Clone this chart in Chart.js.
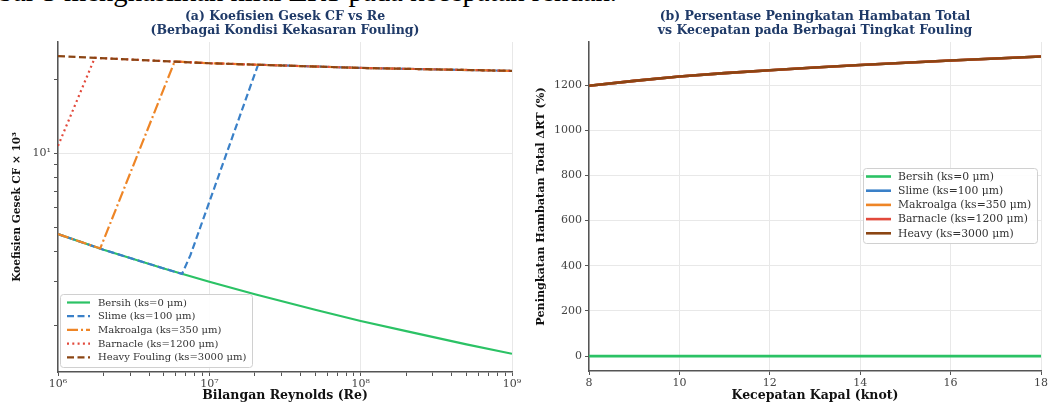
<!DOCTYPE html>
<html>
<head>
<meta charset="utf-8">
<script src="https://cdn.jsdelivr.net/npm/chart.js@4.4.1/dist/chart.umd.min.js"></script>
<style>
  html, body { margin: 0; padding: 0; background: #fff; overflow: hidden; width: 1050px; height: 405px; }
  .panel { position: absolute; top: 0; width: 525px; height: 405px; }
  #topText { position: absolute; top: -23px; right: 433px; white-space: nowrap;
    font-family: "Liberation Serif", serif; font-size: 28.7px; line-height: 29px; color: #000; }
</style>
</head>
<body>
<div id="topText">Gambar 5 menghasilkan nilai ΔRT pada kecepatan rendah.</div>
<div class="panel" style="left:0"><canvas id="cfChart" width="525" height="405"></canvas></div>
<div class="panel" style="left:525px"><canvas id="drtChart" width="525" height="405"></canvas></div>
<script>
// --- Data (a): Koefisien gesek CF x 10^3 vs Re ---
const reBersih = [1e6, 2e6, 5e6, 1e7, 2e7, 5e7, 1e8, 2e8, 5e8, 1e9];
const cfBersih = [4.69, 4.05, 3.40, 3.00, 2.67, 2.31, 2.08, 1.89, 1.67, 1.53];

const reSlime = [1e6, 2e6, 5e6, 6.6e6, 7.5e6, 2.1e7, 1e8, 1e9];
const cfSlime = [4.69, 4.05, 3.40, 3.23, 3.85, 22.9, 22.2, 21.6];

const reMakro = [1e6, 1.9e6, 2.05e6, 5.9e6, 1e7, 1e8, 1e9];
const cfMakro = [4.69, 4.10, 4.6, 23.6, 23.2, 22.2, 21.6];

const reBarnacle = [1e6, 1.75e6, 1e7, 1e8, 1e9];
const cfBarnacle = [10.7, 24.4, 23.2, 22.2, 21.6];

const reHeavy = [1e6, 1e7, 1e8, 1e9];
const cfHeavy = [24.8, 23.2, 22.2, 21.6];

// --- Data (b): Peningkatan hambatan total vs kecepatan ---
const speedKnot = [8, 9, 10, 11, 12, 13, 14, 15, 16, 17, 18];
const drtBersih = [0, 0, 0, 0, 0, 0, 0, 0, 0, 0, 0];
const drtSlime = [1197, 1219, 1238, 1253, 1266, 1278, 1289, 1299, 1309, 1318, 1327];
const drtMakro = [1197, 1219, 1238, 1253, 1266, 1278, 1289, 1299, 1309, 1318, 1327];
const drtBarnacle = [1197, 1219, 1238, 1253, 1266, 1278, 1289, 1299, 1309, 1318, 1327];
const drtHeavy = [1197, 1219, 1238, 1253, 1266, 1278, 1289, 1299, 1309, 1318, 1327];

const speedTicks = [8, 10, 12, 14, 16, 18];
const drtTicks = [0, 200, 400, 600, 800, 1000, 1200];

const labelsA = ['Bersih (ks=0 μm)', 'Slime (ks=100 μm)', 'Makroalga (ks=350 μm)', 'Barnacle (ks=1200 μm)', 'Heavy Fouling (ks=3000 μm)'];
const labelsB = ['Bersih (ks=0 μm)', 'Slime (ks=100 μm)', 'Makroalga (ks=350 μm)', 'Barnacle (ks=1200 μm)', 'Heavy (ks=3000 μm)'];

const C_GREEN = '#2bc265', C_BLUE = '#3a80c8', C_ORANGE = '#ee8526', C_RED = '#e2493b', C_BROWN = '#8b4513';
const FONT = 'DejaVu Serif';
const TITLE_COLOR = '#1f3a68';

const SUP = { '0': '⁰', '1': '¹', '2': '²', '3': '³', '4': '⁴', '5': '⁵', '6': '⁶', '7': '⁷', '8': '⁸', '9': '⁹' };
function isPow10(v) {
    const e = Math.log10(v);
    return Math.abs(e - Math.round(e)) < 1e-6;
}
function pow10Label(v) {
    return '10' + String(Math.round(Math.log10(v))).split('').map(c => SUP[c]).join('');
}
function niceLogTicks(axis) {
    axis.ticks = axis.ticks.filter(t => {
        const m = t.value / Math.pow(10, Math.floor(Math.log10(t.value) + 1e-9));
        return Math.abs(m - Math.round(m)) < 1e-6;
    });
}
function pairs(xs, ys) {
    return xs.map((x, i) => ({ x: x, y: ys[i] }));
}

// legenda di dalam area plot
const boxLegend = {
    id: 'boxLegend',
    afterDraw(chart, args, o) {
        const { ctx, chartArea } = chart;
        const x0 = o.fromRight != null ? chartArea.right - o.fromRight - o.w : chartArea.left + o.fromLeft;
        const y0 = o.fromBottom != null ? chartArea.bottom - o.fromBottom - o.h : chartArea.top + o.fromTop;
        ctx.save();
        ctx.fillStyle = 'rgba(255,255,255,0.9)';
        ctx.strokeStyle = '#d0d0d0';
        ctx.lineWidth = 1;
        ctx.beginPath();
        ctx.roundRect(x0 + 0.5, y0 + 0.5, o.w, o.h, 3);
        ctx.fill();
        ctx.stroke();
        ctx.font = o.fontSize + 'px "' + FONT + '"';
        ctx.textBaseline = 'middle';
        chart.data.datasets.forEach((ds, i) => {
            const y = y0 + o.firstRow + i * o.rowGap;
            ctx.strokeStyle = ds.borderColor;
            ctx.lineWidth = ds.borderWidth;
            ctx.setLineDash(o.useDash ? (ds.borderDash || []) : []);
            ctx.beginPath();
            ctx.moveTo(x0 + o.sampleX, y);
            ctx.lineTo(x0 + o.sampleX + o.sampleW, y);
            ctx.stroke();
            ctx.setLineDash([]);
            ctx.fillStyle = '#333';
            ctx.fillText(ds.label, x0 + o.textX, y + 0.5);
        });
        ctx.restore();
    }
};

function lineSet(label, data, color, dash, width, order) {
    return {
        label: label, data: data, borderColor: color, backgroundColor: color,
        borderDash: dash, borderWidth: width, pointRadius: 0, tension: 0, order: order, fill: false
    };
}

const axisBorder = { display: true, color: '#555', width: 1.5 };
const tickFont = { family: FONT, size: 11 };
const axisTitleFont = { family: FONT, size: 12.5, weight: 'bold' };

// --- CHART (a) ---
new Chart(document.getElementById('cfChart'), {
    type: 'line',
    data: {
        datasets: [
            lineSet(labelsA[0], pairs(reBersih, cfBersih), C_GREEN, [], 2.2, 5),
            lineSet(labelsA[1], pairs(reSlime, cfSlime), C_BLUE, [7, 3.5], 2.2, 4),
            lineSet(labelsA[2], pairs(reMakro, cfMakro), C_ORANGE, [11, 3, 2, 3], 2.2, 3),
            lineSet(labelsA[3], pairs(reBarnacle, cfBarnacle), C_RED, [2, 3.3], 2.2, 2),
            lineSet(labelsA[4], pairs(reHeavy, cfHeavy), C_BROWN, [7, 3.5], 2.2, 1)
        ]
    },
    options: {
        responsive: false,
        animation: false,
        layout: { padding: { left: 11, right: 13, top: 0, bottom: 2 } },
        scales: {
            x: {
                type: 'logarithmic', min: 1e6, max: 1e9,
                border: axisBorder,
                grid: {
                    color: c => (c.tick && isPow10(c.tick.value)) ? '#e8e8e8' : 'rgba(0,0,0,0)',
                    tickColor: '#555', tickLength: 4
                },
                afterBuildTicks: niceLogTicks,
                afterFit: s => { s.height = 31; },
                ticks: {
                    autoSkip: false, maxRotation: 0, padding: 2, color: '#444', font: tickFont,
                    callback: v => isPow10(v) ? pow10Label(v) : ''
                },
                title: { display: true, text: 'Bilangan Reynolds (Re)', color: '#111', font: axisTitleFont, padding: 0 }
            },
            y: {
                type: 'logarithmic', min: 1.29, max: 28.3,
                border: axisBorder,
                grid: {
                    color: c => (c.tick && Math.abs(c.tick.value - 10) < 1e-6) ? '#e8e8e8' : 'rgba(0,0,0,0)',
                    tickColor: '#555', tickLength: 4
                },
                afterBuildTicks: niceLogTicks,
                afterFit: s => { s.width = 47; },
                ticks: {
                    autoSkip: false, padding: 3, color: '#444', font: tickFont,
                    callback: v => Math.abs(v - 10) < 1e-6 ? '10¹' : ''
                },
                title: { display: true, text: 'Koefisien Gesek CF × 10³', color: '#111', font: { family: FONT, size: 10.6, weight: 'bold' }, padding: 0 }
            }
        },
        plugins: {
            legend: { display: false },
            tooltip: { enabled: false },
            title: {
                display: true, fullSize: false,
                text: ['(a) Koefisien Gesek CF vs Re', '(Berbagai Kondisi Kekasaran Fouling)'],
                color: TITLE_COLOR, font: { family: FONT, size: 12.5, weight: 'bold', lineHeight: 1.12 },
                padding: { top: 10, bottom: 4 }
            },
            boxLegend: { fromLeft: 2, fromBottom: 5, w: 192, h: 73, firstRow: 8.5, rowGap: 13.7,
                sampleX: 7, sampleW: 23, textX: 38, fontSize: 10, useDash: true }
        }
    },
    plugins: [boxLegend]
});

// --- CHART (b) ---
new Chart(document.getElementById('drtChart'), {
    type: 'line',
    data: {
        datasets: [
            lineSet(labelsB[0], pairs(speedKnot, drtBersih), C_GREEN, [], 2.6, 5),
            lineSet(labelsB[1], pairs(speedKnot, drtSlime), C_BLUE, [], 2.6, 4),
            lineSet(labelsB[2], pairs(speedKnot, drtMakro), C_ORANGE, [], 2.6, 3),
            lineSet(labelsB[3], pairs(speedKnot, drtBarnacle), C_RED, [], 2.6, 2),
            lineSet(labelsB[4], pairs(speedKnot, drtHeavy), C_BROWN, [], 2.6, 1)
        ]
    },
    options: {
        responsive: false,
        animation: false,
        layout: { padding: { left: 9, right: 8, top: 0, bottom: 2 } },
        scales: {
            x: {
                type: 'linear', min: 8, max: 18,
                border: axisBorder,
                grid: { color: '#e8e8e8', tickColor: '#555', tickLength: 4 },
                afterBuildTicks: axis => { axis.ticks = speedTicks.map(v => ({ value: v })); },
                afterFit: s => { s.height = 32; },
                ticks: { autoSkip: false, maxRotation: 0, padding: 2, color: '#444', font: tickFont },
                title: { display: true, text: 'Kecepatan Kapal (knot)', color: '#111', font: axisTitleFont, padding: 0 }
            },
            y: {
                type: 'linear', min: -66, max: 1391,
                border: axisBorder,
                grid: { color: '#e8e8e8', tickColor: '#555', tickLength: 4 },
                afterBuildTicks: axis => { axis.ticks = drtTicks.map(v => ({ value: v })); },
                afterFit: s => { s.width = 55; },
                ticks: { autoSkip: false, padding: 3, color: '#444', font: tickFont, callback: v => String(v) },
                title: { display: true, text: 'Peningkatan Hambatan Total ΔRT (%)', color: '#111', font: { family: FONT, size: 11.2, weight: 'bold' }, padding: 0 }
            }
        },
        plugins: {
            legend: { display: false },
            tooltip: { enabled: false },
            title: {
                display: true, fullSize: false,
                text: ['(b) Persentase Peningkatan Hambatan Total', 'vs Kecepatan pada Berbagai Tingkat Fouling'],
                color: TITLE_COLOR, font: { family: FONT, size: 12.5, weight: 'bold', lineHeight: 1.12 },
                padding: { top: 10, bottom: 4 }
            },
            boxLegend: { fromRight: 4, fromTop: 126, w: 174, h: 75, firstRow: 8.5, rowGap: 14.2,
                sampleX: 3, sampleW: 25, textX: 35, fontSize: 10.8, useDash: false }
        }
    },
    plugins: [boxLegend]
});
</script>
</body>
</html>
